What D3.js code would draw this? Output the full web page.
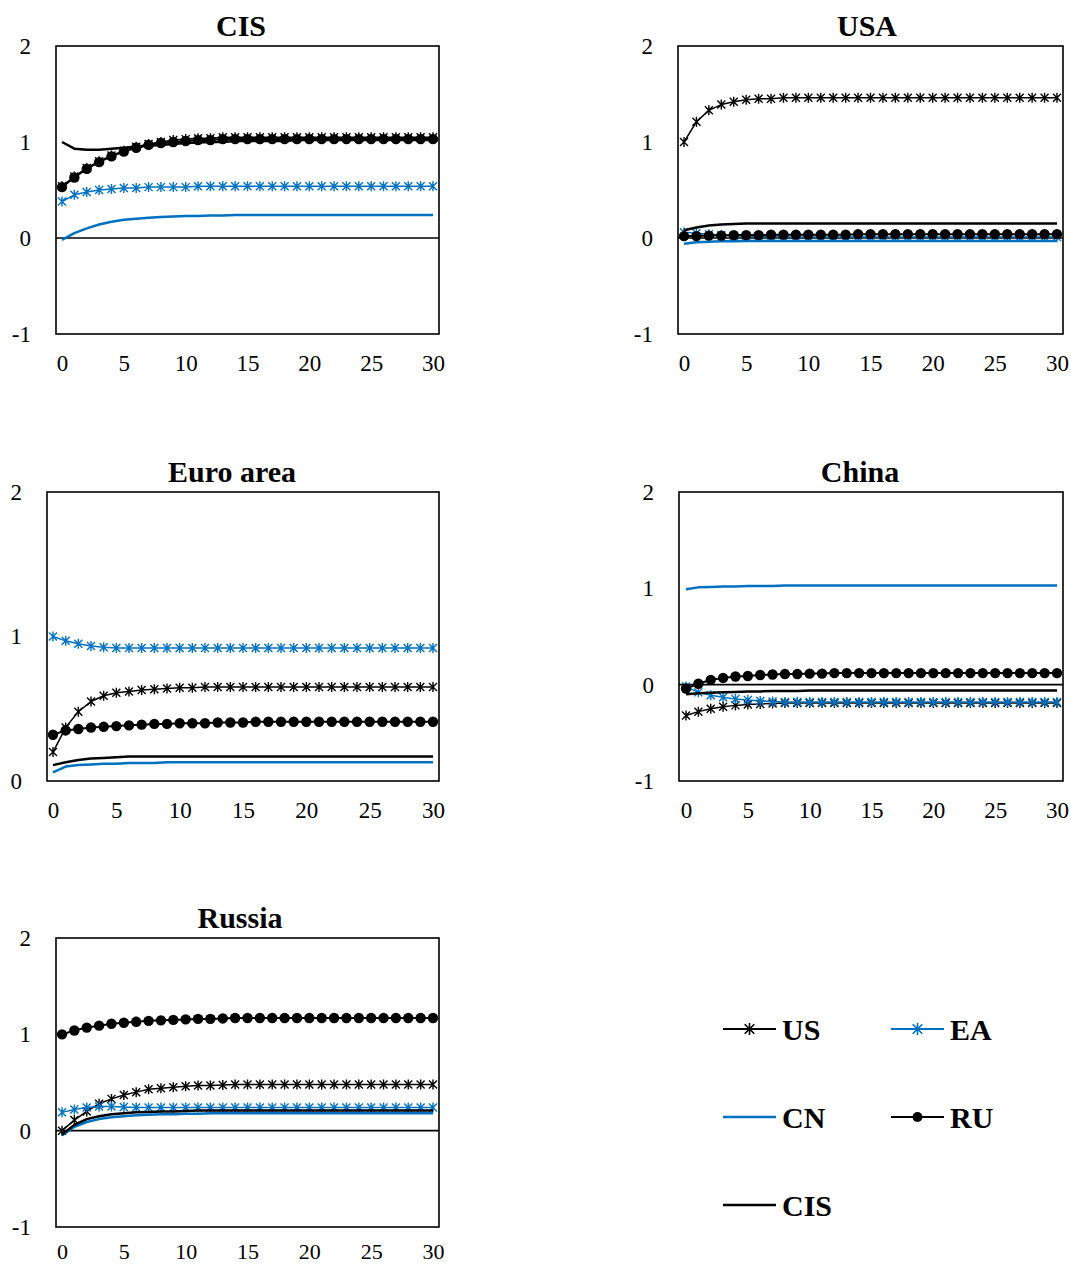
<!DOCTYPE html>
<html><head><meta charset="utf-8">
<script src="https://cdn.jsdelivr.net/npm/d3@7"></script>
<style>body{margin:0;background:#fff}</style>
</head><body>
<svg id="c" width="1071" height="1267"></svg>
<script>
// ---------- DATA ----------
const periods = d3.range(0, 31);
const xTicks = [0, 5, 10, 15, 20, 25, 30];
const yTicksFull = [-1, 0, 1, 2];
const yTicksEA = [0, 1, 2];
const seriesNames = ["US", "EA", "CN", "RU", "CIS"];

// Panel: CIS
const cisUS  = [0.54,0.64,0.73,0.80,0.86,0.91,0.95,0.98,1.00,1.02,1.03, 1.04,1.04,1.05,1.05,1.05,1.05,1.05,1.05,1.05,1.05, 1.05,1.05,1.05,1.05,1.05,1.05,1.05,1.05,1.05,1.05];
const cisEA  = [0.38,0.45,0.48,0.50,0.51,0.52,0.52,0.53,0.53,0.53,0.53, 0.54,0.54,0.54,0.54,0.54,0.54,0.54,0.54,0.54,0.54, 0.54,0.54,0.54,0.54,0.54,0.54,0.54,0.54,0.54,0.54];
const cisCN  = [-0.02,0.05,0.10,0.14,0.17,0.19,0.20,0.21,0.22,0.225,0.23, 0.23,0.235,0.235,0.24,0.24,0.24,0.24,0.24,0.24,0.24, 0.24,0.24,0.24,0.24,0.24,0.24,0.24,0.24,0.24,0.24];
const cisRU  = [0.53,0.63,0.72,0.79,0.85,0.90,0.94,0.97,0.99,1.00,1.01, 1.02,1.02,1.03,1.03,1.03,1.03,1.03,1.03,1.03,1.03, 1.03,1.03,1.03,1.03,1.03,1.03,1.03,1.03,1.03,1.03];
const cisCIS = [1.00,0.93,0.92,0.92,0.93,0.94,0.95,0.96,0.97,0.98,0.99, 0.995,1.00,1.00,1.01,1.01,1.01,1.01,1.01,1.02,1.02, 1.02,1.02,1.02,1.02,1.02,1.02,1.02,1.02,1.02,1.02];

// Panel: USA
const usaUS  = [1.00,1.21,1.33,1.39,1.42,1.44,1.45,1.45,1.46,1.46,1.46, 1.46,1.46,1.46,1.46,1.46,1.46,1.46,1.46,1.46,1.46, 1.46,1.46,1.46,1.46,1.46,1.46,1.46,1.46,1.46,1.46];
const usaEA  = [0.06,0.05,0.04,0.03,0.02,0.02,0.015,0.015,0.01,0.01,0.01, 0.01,0.01,0.01,0.01,0.01,0.01,0.01,0.01,0.01,0.01, 0.01,0.01,0.01,0.01,0.01,0.01,0.01,0.01,0.01,0.01];
const usaCN  = [-0.06,-0.045,-0.04,-0.035,-0.035,-0.03,-0.03,-0.03,-0.03,-0.03,-0.03, -0.03,-0.03,-0.03,-0.03,-0.03,-0.03,-0.03,-0.03,-0.03,-0.03, -0.03,-0.03,-0.03,-0.03,-0.03,-0.03,-0.03,-0.03,-0.03,-0.03];
const usaRU  = [0.02,0.02,0.025,0.025,0.03,0.03,0.03,0.035,0.035,0.035,0.035, 0.035,0.035,0.035,0.04,0.04,0.04,0.04,0.04,0.04,0.04, 0.04,0.04,0.04,0.04,0.04,0.04,0.04,0.04,0.04,0.04];
const usaCIS = [0.08,0.11,0.13,0.14,0.145,0.15,0.15,0.15,0.15,0.15,0.15, 0.15,0.15,0.15,0.15,0.15,0.15,0.15,0.15,0.15,0.15, 0.15,0.15,0.15,0.15,0.15,0.15,0.15,0.15,0.15,0.15];

// Panel: Euro area
const eaUS  = [0.20,0.37,0.48,0.55,0.59,0.61,0.62,0.63,0.635,0.64,0.645, 0.645,0.65,0.65,0.65,0.65,0.65,0.65,0.65,0.65,0.65, 0.65,0.65,0.65,0.65,0.65,0.65,0.65,0.65,0.65,0.65];
const eaEA  = [1.00,0.97,0.95,0.935,0.925,0.92,0.92,0.92,0.92,0.92,0.92, 0.92,0.92,0.92,0.92,0.92,0.92,0.92,0.92,0.92,0.92, 0.92,0.92,0.92,0.92,0.92,0.92,0.92,0.92,0.92,0.92];
const eaCN  = [0.06,0.10,0.11,0.115,0.12,0.12,0.125,0.125,0.125,0.13,0.13, 0.13,0.13,0.13,0.13,0.13,0.13,0.13,0.13,0.13,0.13, 0.13,0.13,0.13,0.13,0.13,0.13,0.13,0.13,0.13,0.13];
const eaRU  = [0.32,0.35,0.36,0.37,0.375,0.38,0.385,0.39,0.395,0.395,0.40, 0.40,0.40,0.405,0.405,0.405,0.41,0.41,0.41,0.41,0.41, 0.41,0.41,0.41,0.41,0.41,0.41,0.41,0.41,0.41,0.41];
const eaCIS = [0.11,0.13,0.145,0.155,0.16,0.165,0.17,0.17,0.17,0.17,0.17, 0.17,0.17,0.17,0.17,0.17,0.17,0.17,0.17,0.17,0.17, 0.17,0.17,0.17,0.17,0.17,0.17,0.17,0.17,0.17,0.17];

// Panel: China
const cnUS  = [-0.32,-0.28,-0.25,-0.23,-0.215,-0.205,-0.20,-0.195,-0.19,-0.19,-0.19, -0.19,-0.19,-0.19,-0.19,-0.19,-0.19,-0.19,-0.19,-0.19,-0.19, -0.19,-0.19,-0.19,-0.19,-0.19,-0.19,-0.19,-0.19,-0.19,-0.19];
const cnEA  = [-0.02,-0.08,-0.11,-0.13,-0.15,-0.16,-0.17,-0.175,-0.18,-0.18,-0.18, -0.18,-0.18,-0.18,-0.18,-0.18,-0.18,-0.18,-0.18,-0.18,-0.18, -0.18,-0.18,-0.18,-0.18,-0.18,-0.18,-0.18,-0.18,-0.18,-0.18];
const cnCN  = [0.99,1.01,1.015,1.02,1.02,1.025,1.025,1.025,1.03,1.03,1.03, 1.03,1.03,1.03,1.03,1.03,1.03,1.03,1.03,1.03,1.03, 1.03,1.03,1.03,1.03,1.03,1.03,1.03,1.03,1.03,1.03];
const cnRU  = [-0.04,0.01,0.05,0.07,0.085,0.09,0.10,0.105,0.11,0.11,0.115, 0.115,0.12,0.12,0.12,0.12,0.12,0.12,0.12,0.12,0.12, 0.12,0.12,0.12,0.12,0.12,0.12,0.12,0.12,0.12,0.12];
const cnCIS = [-0.10,-0.09,-0.085,-0.08,-0.075,-0.07,-0.07,-0.065,-0.065,-0.065,-0.06, -0.06,-0.06,-0.06,-0.06,-0.06,-0.06,-0.06,-0.06,-0.06,-0.06, -0.06,-0.06,-0.06,-0.06,-0.06,-0.06,-0.06,-0.06,-0.06,-0.06];

// Panel: Russia
const ruUS  = [0.00,0.11,0.20,0.28,0.33,0.37,0.40,0.43,0.44,0.45,0.46, 0.47,0.47,0.475,0.48,0.48,0.48,0.48,0.48,0.48,0.48, 0.48,0.48,0.48,0.48,0.48,0.48,0.48,0.48,0.48,0.48];
const ruEA  = [0.19,0.22,0.24,0.25,0.25,0.245,0.24,0.24,0.24,0.24,0.24, 0.24,0.24,0.24,0.24,0.24,0.24,0.24,0.24,0.24,0.24, 0.24,0.24,0.24,0.24,0.24,0.24,0.24,0.24,0.24,0.24];
const ruCN  = [-0.05,0.04,0.09,0.12,0.14,0.15,0.16,0.165,0.17,0.17,0.175, 0.175,0.18,0.18,0.18,0.18,0.18,0.18,0.18,0.18,0.18, 0.18,0.18,0.18,0.18,0.18,0.18,0.18,0.18,0.18,0.18];
const ruRU  = [1.00,1.04,1.07,1.09,1.11,1.12,1.13,1.14,1.145,1.15,1.155, 1.16,1.16,1.165,1.17,1.17,1.17,1.17,1.17,1.17,1.17, 1.17,1.17,1.17,1.17,1.17,1.17,1.17,1.17,1.17,1.17];
const ruCIS = [-0.04,0.06,0.12,0.15,0.17,0.18,0.19,0.195,0.20,0.20,0.205, 0.21,0.21,0.21,0.21,0.21,0.21,0.21,0.21,0.21,0.21, 0.21,0.21,0.21,0.21,0.21,0.21,0.21,0.21,0.21,0.21];

// ---------- STYLE / LAYOUT ----------
const BLUE = "#0070C0";
const seriesStyle = {
  US:  {color: "#000", width: 1.5, marker: "star"},
  EA:  {color: BLUE,   width: 1.5, marker: "star"},
  CN:  {color: BLUE,   width: 2.5, marker: null},
  RU:  {color: "#000", width: 2,   marker: "dot"},
  CIS: {color: "#000", width: 2.5, marker: null}
};
const FONT = "'Liberation Serif', 'Times New Roman', serif";

const panels = [
  {title: "CIS", data: {US: cisUS, EA: cisEA, CN: cisCN, RU: cisRU, CIS: cisCIS}, yDomain: [-1, 2], yTicks: yTicksFull,
   frame: {l: 56, t: 46, r: 439, b: 334}, xr: [62, 433], titleX: 241, xPad: 21, xFont: 23},
  {title: "USA", data: {US: usaUS, EA: usaEA, CN: usaCN, RU: usaRU, CIS: usaCIS}, yDomain: [-1, 2], yTicks: yTicksFull,
   frame: {l: 678, t: 46, r: 1063, b: 334}, xr: [684, 1057], titleX: 867, xPad: 21, xFont: 23},
  {title: "Euro area", data: {US: eaUS, EA: eaEA, CN: eaCN, RU: eaRU, CIS: eaCIS}, yDomain: [0, 2], yTicks: yTicksEA,
   frame: {l: 47, t: 492, r: 439, b: 781}, xr: [53, 433], titleX: 232, xPad: 21, xFont: 23},
  {title: "China", data: {US: cnUS, EA: cnEA, CN: cnCN, RU: cnRU, CIS: cnCIS}, yDomain: [-1, 2], yTicks: yTicksFull,
   frame: {l: 679, t: 492, r: 1063, b: 781}, xr: [686, 1057], titleX: 860, xPad: 21, xFont: 23},
  {title: "Russia", data: {US: ruUS, EA: ruEA, CN: ruCN, RU: ruRU, CIS: ruCIS}, yDomain: [-1, 2], yTicks: yTicksFull,
   frame: {l: 56, t: 938, r: 439, b: 1227}, xr: [62, 433], titleX: 240, xPad: 16, xFont: 22}
];

const svg = d3.select("#c");
svg.append("rect").attr("width", 1071).attr("height", 1267).attr("fill", "#fff");

function xStarPath(s) {
  return `M0,${-s}L0,${s}M${-s*0.8},${-s*0.8}L${s*0.8},${s*0.8}M${-s*0.8},${s*0.8}L${s*0.8},${-s*0.8}`;
}
const fmt = d => String(d);

panels.forEach(p => {
  const g = svg.append("g");
  const x = d3.scaleLinear().domain([0, 30]).range(p.xr);
  const y = d3.scaleLinear().domain(p.yDomain).range([p.frame.b, p.frame.t]);

  // title
  g.append("text").attr("x", p.titleX).attr("y", p.frame.t - 10)
    .attr("text-anchor", "middle").style("font-family", FONT).attr("font-weight", "bold")
    .attr("font-size", 30).text(p.title);

  // y tick labels
  const yAxis = d3.axisLeft(y).tickValues(p.yTicks).tickSize(0).tickPadding(25).tickFormat(fmt);
  const ya = g.append("g").attr("transform", `translate(${p.frame.l},0)`).call(yAxis);
  ya.attr("font-family", null).attr("font-size", null);
  ya.select(".domain").remove();
  ya.selectAll("text").style("font-family", FONT).style("font-size", "23px").attr("fill", "#000");

  // x tick labels
  const xAxis = d3.axisBottom(x).tickValues(xTicks).tickSize(0).tickPadding(p.xPad).tickFormat(fmt);
  const xa = g.append("g").attr("transform", `translate(0,${p.frame.b})`).call(xAxis);
  xa.attr("font-family", null).attr("font-size", null);
  xa.select(".domain").remove();
  xa.selectAll("text").style("font-family", FONT).style("font-size", p.xFont + "px").attr("fill", "#000");

  // zero line
  if (p.yDomain[0] < 0) {
    g.append("line").attr("x1", p.frame.l).attr("x2", p.frame.r)
      .attr("y1", y(0)).attr("y2", y(0)).attr("stroke", "#000").attr("stroke-width", 1.6);
  }

  // series
  seriesNames.forEach(name => {
    const st = seriesStyle[name];
    const vals = p.data[name];
    const line = d3.line().x((d, i) => x(periods[i])).y(d => y(d));
    g.append("path").datum(vals).attr("d", line).attr("fill", "none")
      .attr("stroke", st.color).attr("stroke-width", st.width).attr("stroke-linejoin", "round");
    if (st.marker === "star") {
      g.selectAll(null).data(vals).enter().append("path")
        .attr("transform", (d, i) => `translate(${x(periods[i])},${y(d)})`)
        .attr("d", xStarPath(5)).attr("fill", "none").attr("stroke", st.color).attr("stroke-width", 1.4);
    } else if (st.marker === "dot") {
      g.selectAll(null).data(vals).enter().append("circle")
        .attr("cx", (d, i) => x(periods[i])).attr("cy", d => y(d)).attr("r", 5.2).attr("fill", st.color);
    }
  });

  // frame
  g.append("rect").attr("x", p.frame.l).attr("y", p.frame.t)
    .attr("width", p.frame.r - p.frame.l).attr("height", p.frame.b - p.frame.t)
    .attr("fill", "none").attr("stroke", "#000").attr("stroke-width", 1.6);
});

// legend
const legendPos = {US: [723, 1029], EA: [891, 1029], CN: [723, 1117], RU: [891, 1117], CIS: [723, 1205]};
seriesNames.forEach(name => {
  const st = seriesStyle[name];
  const [lx, ly] = legendPos[name];
  const g = svg.append("g").attr("transform", `translate(${lx},${ly})`);
  g.append("line").attr("x1", 0).attr("x2", 53).attr("y1", 0).attr("y2", 0)
    .attr("stroke", st.color).attr("stroke-width", name === "CN" || name === "CIS" ? 2.5 : 2);
  if (st.marker === "star") {
    g.append("path").attr("transform", "translate(26.5,0)").attr("d", xStarPath(6))
      .attr("fill", "none").attr("stroke", st.color).attr("stroke-width", 1.6);
  } else if (st.marker === "dot") {
    g.append("circle").attr("cx", 26.5).attr("cy", 0).attr("r", 5).attr("fill", st.color);
  }
  g.append("text").attr("x", 59).attr("y", 0).attr("dy", "0.35em")
    .style("font-family", FONT).attr("font-weight", "bold").attr("font-size", 30).text(name);
});
</script>
</body></html>
